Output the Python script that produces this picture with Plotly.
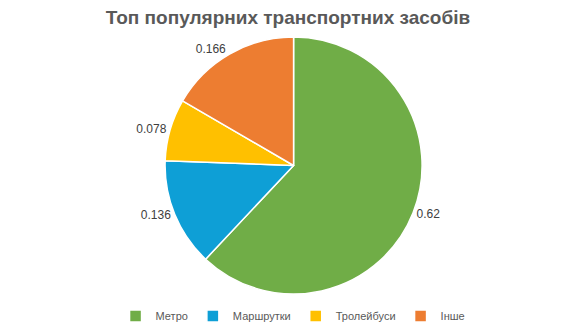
import plotly.graph_objects as go

categories = ["Метро", "Маршрутки", "Тролейбуси", "Інше"]
values = [0.62, 0.136, 0.078, 0.166]
colors = ["#70AD47", "#0E9FD6", "#FFC000", "#ED7D31"]

fig = go.Figure(go.Pie(
    labels=categories,
    values=values,
    text=[str(v) for v in values],
    textinfo="text",
    textposition="outside",
    sort=False,
    direction="clockwise",
    rotation=0,
    domain=dict(x=[0, 566 / 576], y=[1 - 294 / 336, 1 - 37 / 336]),
    marker=dict(colors=colors, line=dict(color="white", width=1.5)),
    textfont=dict(family="Liberation Sans, Arial, sans-serif", size=12, color="#404040"),
    showlegend=True,
))

fig.update_layout(
    width=576, height=336,
    margin=dict(l=0, r=0, t=0, b=0),
    paper_bgcolor="white",
    plot_bgcolor="white",
    title=dict(
        text="<b>Топ популярних транспортних засобів</b>",
        x=0.5, xanchor="center", y=1 - 17 / 336, yanchor="middle",
        font=dict(family="Liberation Sans, Arial, sans-serif", size=19, color="#595959"),
    ),
    legend=dict(
        orientation="h", x=0.49, xanchor="center", y=1 - 316 / 336, yanchor="middle",
        font=dict(family="Liberation Sans, Arial, sans-serif", size=11, color="#595959"),
        itemwidth=30,
    ),
)

fig.write_html("out.html")
